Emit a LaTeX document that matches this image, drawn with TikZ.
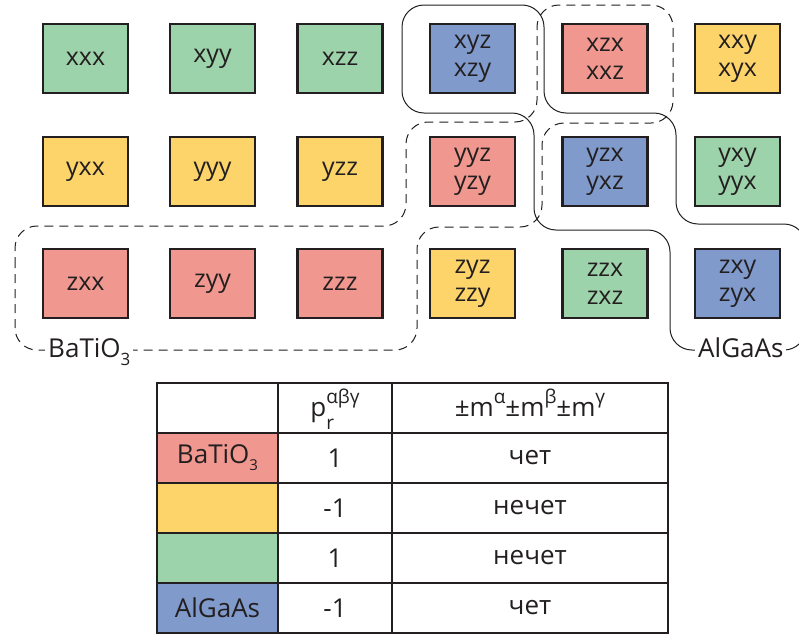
\documentclass[tikz,border=0pt]{standalone}
\usepackage{fontspec}
\setmainfont{Open Sans}
\definecolor{grn}{RGB}{157,211,170}
\definecolor{ylw}{RGB}{252,212,106}
\definecolor{rd}{RGB}{240,152,143}
\definecolor{blu}{RGB}{127,154,203}
\definecolor{edge}{RGB}{35,31,32}
\newcommand\mysup[1]{\raisebox{13pt}{\fontsize{19}{19}\selectfont #1}}
\newcommand\mysubr[1]{\raisebox{-13pt}{\fontsize{19}{19}\selectfont #1}}
\newcommand\mysub[1]{\raisebox{-8pt}{\fontsize{17}{17}\selectfont #1}}
\tikzset{
  cell/.style={draw=edge, line width=2.5pt, minimum width=85pt, minimum height=69pt,
    inner sep=0pt, align=center, text=edge, font=\fontsize{25}{28}\selectfont},
  tcell/.style={draw=edge, line width=2.5pt, minimum height=50pt, inner sep=0pt,
    text=edge, font=\fontsize{26}{28}\selectfont},
  ttext/.style={text=edge, font=\fontsize{26}{28}\selectfont},
  grplabel/.style={fill=white, inner sep=3pt, text=edge, font=\fontsize{26}{28}\selectfont},
  dashband/.style={draw=edge, line width=1pt, dash pattern=on 9pt off 6pt, rounded corners=22pt},
  solidband/.style={draw=edge, line width=1pt, rounded corners=22pt}
}
\begin{document}
\begin{tikzpicture}[x=1pt,y=-1pt]
\useasboundingbox (0,0) rectangle (799,637);
\begin{scope}
\clip (0,0) rectangle (799,637);
% bands
\draw[dashband] (15,288) -- (15,226) -- (406,226) -- (406,122) -- (537,122) -- (537,5)
  -- (673,5) -- (673,123) -- (542,123) -- (542,227) -- (417,227) -- (417,350) -- (15,350) -- cycle;
\draw[solidband] (402,60) -- (402,5) -- (544,5) -- (544,113) -- (676,113) -- (676,224)
  -- (806,224) -- (806,350) -- (670,350) -- (670,230) -- (534,230) -- (534,113) -- (402,113) -- cycle;
\end{scope}
\node[grplabel, anchor=base west] (lb) at (45,357) {BaTiO\mysub{3}};
\node[grplabel, anchor=base west] (la) at (695,357) {AlGaAs};
% grid
\node[cell, fill=grn] (c11) at (85.5,58.5) {xxx};
\node[cell, fill=grn] (c12) at (212.5,58.5) {xyy};
\node[cell, fill=grn] (c13) at (340,58.5) {xzz};
\node[cell, fill=blu] (c14) at (472.5,58.5) {xyz\\xzy};
\node[cell, fill=rd] (c15) at (605,58.5) {xzx\\xxz};
\node[cell, fill=ylw] (c16) at (737.5,58.5) {xxy\\xyx};
\node[cell, fill=ylw] (c21) at (85.5,171.5) {yxx};
\node[cell, fill=ylw] (c22) at (212.5,171.5) {yyy};
\node[cell, fill=ylw] (c23) at (340,171.5) {yzz};
\node[cell, fill=rd] (c24) at (472.5,171.5) {yyz\\yzy};
\node[cell, fill=blu] (c25) at (605,171.5) {yzx\\yxz};
\node[cell, fill=grn] (c26) at (737.5,171.5) {yxy\\yyx};
\node[cell, fill=rd] (c31) at (85.5,283.5) {zxx};
\node[cell, fill=rd] (c32) at (212.5,283.5) {zyy};
\node[cell, fill=rd] (c33) at (340,283.5) {zzz};
\node[cell, fill=ylw] (c34) at (472.5,283.5) {zyz\\zzy};
\node[cell, fill=grn] (c35) at (605,283.5) {zzx\\zxz};
\node[cell, fill=blu] (c36) at (737.5,283.5) {zxy\\zyx};
% table
\foreach \r/\y in {1/408,2/458,3/508,4/558,5/608}{
  \node[tcell, minimum width=121pt] (t\r a) at (217.5,\y) {};
  \node[tcell, minimum width=114pt] (t\r b) at (335,\y) {};
  \node[tcell, minimum width=276pt] (t\r c) at (530,\y) {};
}
\node[tcell, minimum width=121pt, fill=rd] (t2a) at (217.5,458) {BaTiO\raisebox{-7pt}{\fontsize{15}{15}\selectfont 3}};
\node[tcell, minimum width=121pt, fill=ylw] (t3a) at (217.5,508) {};
\node[tcell, minimum width=121pt, fill=grn] (t4a) at (217.5,558) {};
\node[tcell, minimum width=121pt, fill=blu] (t5a) at (217.5,608) {AlGaAs};
\node[ttext, anchor=base] (h2) at ([yshift=-8pt]t1b.center) {p\makebox[0pt][l]{\mysubr{r}}\mysup{αβγ}};
\node[ttext, anchor=base] (h3) at ([yshift=-8pt]t1c.center) {±m\mysup{α}±m\mysup{β}±m\mysup{γ}};
\node[ttext] at (t2b) {1};
\node[ttext] at (t3b) {-1};
\node[ttext] at (t4b) {1};
\node[ttext] at (t5b) {-1};
\node[ttext] at (t2c) {чет};
\node[ttext] at (t3c) {нечет};
\node[ttext] at (t4c) {нечет};
\node[ttext] at (t5c) {чет};
\end{tikzpicture}
\end{document}
